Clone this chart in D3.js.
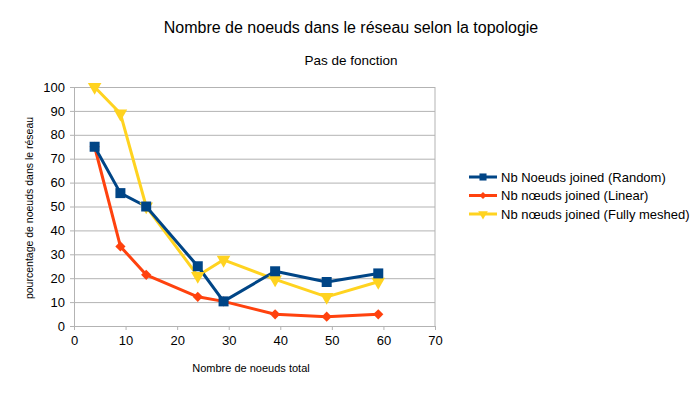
<!DOCTYPE html>
<html>
<head>
<meta charset="utf-8">
<script src="https://cdn.jsdelivr.net/npm/d3@7"></script>
<style>
  body { margin: 0; background: #fff; }
  text { font-family: "Liberation Sans", Arial, sans-serif; fill: #000; }
</style>
</head>
<body>
<svg id="chart"></svg>
<script>
const nodesTotal = [4, 9, 14, 24, 29, 39, 49, 59];
const randomValues = [75, 55.6, 50, 25, 10.3, 22.9, 18.4, 22];
const linearValues = [75, 33.3, 21.4, 12.2, 10.3, 4.9, 3.9, 4.9];
const meshedValues = [100, 88.9, 50, 21, 27.7, 19.5, 12.2, 18.5];
const seriesNames = [
  "Nb Noeuds joined (Random)",
  "Nb nœuds joined (Linear)",
  "Nb nœuds joined (Fully meshed)",
];
const xTicks = [0, 10, 20, 30, 40, 50, 60, 70];
const yTicks = [0, 10, 20, 30, 40, 50, 60, 70, 80, 90, 100];

const width = 698;
const height = 393;
const marginLeft = 74;
const marginRight = 263;
const marginTop = 87;
const marginBottom = 67;

const series = [
  { name: seriesNames[0], values: randomValues, color: "#004586", symbol: d3.symbolSquare, size: 100, rotate: 0 },
  { name: seriesNames[1], values: linearValues, color: "#ff420e", symbol: d3.symbolSquare, size: 52, rotate: 45 },
  { name: seriesNames[2], values: meshedValues, color: "#ffd320", symbol: d3.symbolTriangle, size: 80, rotate: 180 },
];

const svg = d3.select("#chart").attr("width", width).attr("height", height);

const x = d3.scaleLinear().domain([0, 70]).range([marginLeft, width - marginRight]);
const y = d3.scaleLinear().domain([0, 100]).range([height - marginBottom, marginTop]);

// grid
svg.append("g")
  .attr("class", "y-grid")
  .attr("transform", `translate(${marginLeft},0)`)
  .call(d3.axisLeft(y).tickValues(yTicks).tickSize(-(width - marginLeft - marginRight)).tickFormat(""))
  .call((g) => g.select(".domain").remove())
  .selectAll(".tick line")
  .attr("stroke", "#b3b3b3");

svg.append("line")
  .attr("x1", x(70)).attr("x2", x(70))
  .attr("y1", y(0)).attr("y2", y(100))
  .attr("stroke", "#b3b3b3");

// axes
const xAxis = svg.append("g")
  .attr("transform", `translate(0,${height - marginBottom})`)
  .call(d3.axisBottom(x).tickValues(xTicks).tickSize(4).tickSizeOuter(0).tickPadding(6));
const yAxis = svg.append("g")
  .attr("transform", `translate(${marginLeft},0)`)
  .call(d3.axisLeft(y).tickValues(yTicks).tickSize(4).tickSizeOuter(0).tickPadding(5));

[xAxis, yAxis].forEach((g) => {
  g.select(".domain").attr("stroke", "#b3b3b3");
  g.selectAll(".tick line").attr("stroke", "#b3b3b3");
  g.selectAll(".tick text")
    .style("font-family", '"Liberation Sans", Arial, sans-serif')
    .style("font-size", "13px")
    .attr("fill", "#000");
});

// lines + markers (last series at the bottom, first on top)
const line = d3.line()
  .x((d, i) => x(nodesTotal[i]))
  .y((d) => y(d));

const drawOrder = series.slice().reverse();

drawOrder.forEach((s) => {
  svg.append("path")
    .datum(s.values)
    .attr("fill", "none")
    .attr("stroke", s.color)
    .attr("stroke-width", 3)
    .attr("stroke-linejoin", "round")
    .attr("d", line);
});

drawOrder.forEach((s) => {
  svg.append("g")
    .selectAll("path")
    .data(s.values)
    .join("path")
    .attr("d", d3.symbol().type(s.symbol).size(s.size))
    .attr("fill", s.color)
    .attr("transform", (d, i) => `translate(${x(nodesTotal[i])},${y(d)}) rotate(${s.rotate})`);
});

// titles
svg.append("text")
  .attr("x", 351).attr("y", 33)
  .attr("text-anchor", "middle")
  .style("font-size", "16px")
  .text("Nombre de noeuds dans le réseau selon la topologie");

svg.append("text")
  .attr("x", 351).attr("y", 65)
  .attr("text-anchor", "middle")
  .style("font-size", "13.5px")
  .text("Pas de fonction");

svg.append("text")
  .attr("x", 251).attr("y", 372)
  .attr("text-anchor", "middle")
  .style("font-size", "11px")
  .text("Nombre de noeuds total");

svg.append("text")
  .attr("transform", "translate(33,208) rotate(-90)")
  .attr("text-anchor", "middle")
  .style("font-size", "10.5px")
  .text("pourcentage de noeuds dans le réseau");

// legend
const legend = svg.selectAll(".legend")
  .data(series)
  .join("g")
  .attr("class", "legend")
  .attr("transform", (d, i) => `translate(469,${177 + i * 18.5})`);

legend.append("line")
  .attr("x1", 0).attr("x2", 28)
  .attr("stroke", (d) => d.color)
  .attr("stroke-width", 3);

legend.append("path")
  .attr("d", (d) => d3.symbol().type(d.symbol).size(d.size * 0.5)())
  .attr("fill", (d) => d.color)
  .attr("transform", (d) => `translate(14,0) rotate(${d.rotate})`);

legend.append("text")
  .attr("x", 32)
  .attr("dy", "0.35em")
  .style("font-size", "13px")
  .text((d) => d.name);
</script>
</body>
</html>
